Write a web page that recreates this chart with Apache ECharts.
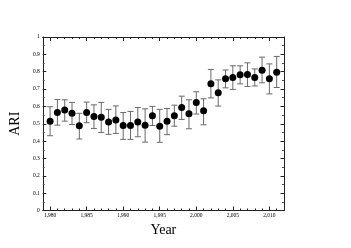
<!DOCTYPE html>
<html>
<head>
<meta charset="utf-8">
<script src="https://cdn.jsdelivr.net/npm/echarts@6/dist/echarts.min.js"></script>
<style>html,body{margin:0;padding:0;background:#fff;}#c{width:351px;height:248px;}</style>
</head>
<body>
<div id="c"></div>
<script>
const years = [1980,1981,1982,1983,1984,1985,1986,1987,1988,1989,1990,1991,1992,1993,1994,1995,1996,1997,1998,1999,2000,2001,2002,2003,2004,2005,2006,2007,2008,2009,2010,2011];
const ari = [0.514,0.565,0.579,0.560,0.488,0.565,0.542,0.538,0.510,0.521,0.490,0.490,0.510,0.492,0.546,0.486,0.514,0.546,0.594,0.557,0.623,0.575,0.730,0.678,0.759,0.767,0.782,0.784,0.767,0.809,0.759,0.797];
const ariLow = [0.431,0.492,0.515,0.496,0.412,0.506,0.473,0.450,0.439,0.444,0.410,0.410,0.425,0.394,0.490,0.393,0.437,0.486,0.525,0.471,0.556,0.494,0.649,0.602,0.707,0.698,0.730,0.715,0.718,0.736,0.672,0.709];
const ariHigh = [0.598,0.640,0.638,0.623,0.560,0.625,0.609,0.623,0.583,0.603,0.565,0.571,0.594,0.586,0.600,0.583,0.588,0.607,0.659,0.638,0.684,0.644,0.813,0.753,0.810,0.834,0.834,0.851,0.816,0.884,0.845,0.888];
const xMajorTicks = [1980,1985,1990,1995,2000,2005,2010];
const xMinorTicks = years;

const FONT = 'Liberation Serif';
const lineCol = '#222';

function xAx(pos, ticks, len, showLine, showLabel, extra) {
  return Object.assign({
    type: 'value', position: pos, min: 1979, max: 2012,
    axisLine: { show: showLine, onZero: false, lineStyle: { color: lineCol, width: 1 } },
    axisTick: { show: true, inside: true, length: len, customValues: ticks, lineStyle: { color: lineCol, width: 1 } },
    axisLabel: { show: showLabel, customValues: ticks, fontFamily: FONT, fontSize: 5.5, color: '#000', margin: 2 },
    splitLine: { show: false }
  }, extra || {});
}
function yAx(pos, showLabel, extra) {
  return Object.assign({
    type: 'value', position: pos, min: 0, max: 1, interval: 0.1,
    axisLine: { show: true, onZero: false, lineStyle: { color: lineCol, width: 1 } },
    axisTick: { show: true, inside: true, length: 3.5, lineStyle: { color: lineCol, width: 1 } },
    minorTick: { show: true, splitNumber: 2, length: 2, lineStyle: { color: '#555', width: 1 } },
    axisLabel: { show: showLabel, fontFamily: FONT, fontSize: 5.5, color: '#000', margin: 3 },
    splitLine: { show: false }
  }, extra || {});
}

const chart = echarts.init(document.getElementById('c'), null, { renderer: 'canvas' });
chart.setOption({
  animation: false,
  backgroundColor: '#fff',
  grid: { left: 37, right: 67, top: 37, bottom: 37.5, containLabel: false },
  xAxis: [
    xAx('bottom', xMinorTicks, 2, true, false),
    xAx('bottom', xMajorTicks, 4, false, true, {
      name: 'Year', nameLocation: 'middle', nameGap: 6,
      nameTextStyle: { fontFamily: FONT, fontSize: 14, color: '#000' }
    }),
    xAx('top', xMinorTicks, 2, true, false),
    xAx('top', xMajorTicks, 4, false, false)
  ],
  yAxis: [
    yAx('left', true, {
      name: 'ARI', nameLocation: 'middle', nameGap: 7, nameRotate: 90,
      nameTextStyle: { fontFamily: FONT, fontSize: 14, color: '#000' }
    }),
    yAx('right', false)
  ],
  series: [
    {
      type: 'custom',
      xAxisIndex: 0, yAxisIndex: 0,
      data: years.map((y, i) => [y, ariLow[i], ariHigh[i]]),
      renderItem: function (params, api) {
        const x = api.value(0);
        const pLo = api.coord([x, api.value(1)]);
        const pHi = api.coord([x, api.value(2)]);
        const w = 3;
        const st = { stroke: '#6a6a6a', lineWidth: 1 };
        return {
          type: 'group',
          children: [
            { type: 'line', shape: { x1: pHi[0], y1: pHi[1], x2: pLo[0], y2: pLo[1] }, style: st },
            { type: 'line', shape: { x1: pHi[0] - w, y1: pHi[1], x2: pHi[0] + w, y2: pHi[1] }, style: st },
            { type: 'line', shape: { x1: pLo[0] - w, y1: pLo[1], x2: pLo[0] + w, y2: pLo[1] }, style: st }
          ]
        };
      },
      z: 2
    },
    {
      type: 'scatter',
      xAxisIndex: 0, yAxisIndex: 0,
      data: years.map((y, i) => [y, ari[i]]),
      symbol: 'circle', symbolSize: 7,
      itemStyle: { color: '#000', opacity: 1 },
      z: 3
    }
  ]
});
</script>
</body>
</html>
